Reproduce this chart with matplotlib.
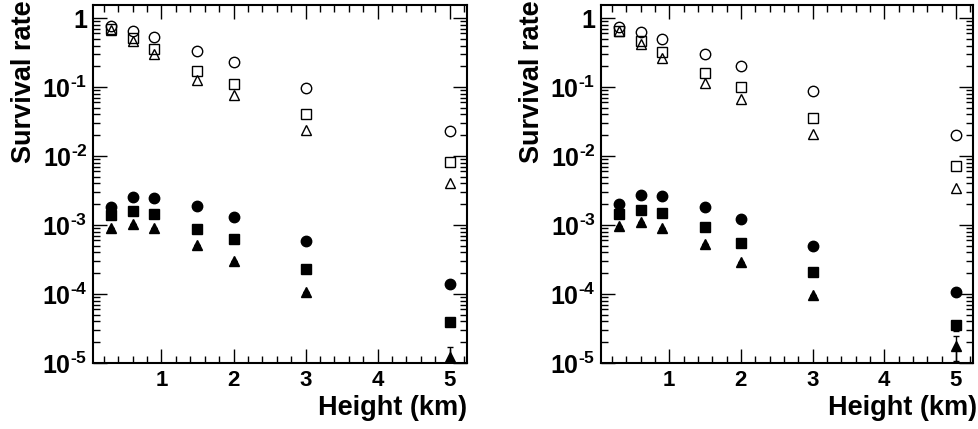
import math
import matplotlib
matplotlib.use("Agg")
import matplotlib.pyplot as plt
from matplotlib.ticker import LogLocator, MultipleLocator, FixedLocator, FuncFormatter, NullFormatter

plt.rcParams['font.family'] = ['Liberation Sans', 'DejaVu Sans']
plt.rcParams['font.weight'] = 'bold'
plt.rcParams['mathtext.fontset'] = 'custom'
plt.rcParams['mathtext.rm'] = 'Liberation Sans:bold'
plt.rcParams['mathtext.bf'] = 'Liberation Sans:bold'
plt.rcParams['mathtext.default'] = 'rm'

# heights (km) of the measurements
heights = [0.3, 0.6, 0.9, 1.5, 2, 3, 5]

# left panel
open_circle_L = [0.76, 0.66, 0.54, 0.33, 0.23, 0.098, 0.023]
open_square_L = [0.69, 0.52, 0.36, 0.17, 0.11, 0.041, 0.0083]
open_tri_L = [0.68, 0.46, 0.30, 0.126, 0.076, 0.024, 0.0040]
fill_circle_L = [1.8e-3, 2.57e-3, 2.5e-3, 1.9e-3, 1.32e-3, 5.9e-4, 1.38e-4]
fill_square_L = [1.4e-3, 1.6e-3, 1.44e-3, 8.7e-4, 6.2e-4, 2.3e-4, 3.9e-5]
fill_tri_L = [9.0e-4, 1.02e-3, 9.0e-4, 5.2e-4, 3.0e-4, 1.05e-4, 1.22e-5]
err_square_L = [0, 0, 0, 0, 0, 0, 0.4e-5]
err_tri_L = [0, 0, 0, 0, 0, 0, 0.5e-5]

# right panel
open_circle_R = [0.74, 0.62, 0.49, 0.30, 0.20, 0.087, 0.020]
open_square_R = [0.66, 0.47, 0.32, 0.158, 0.099, 0.036, 0.0071]
open_tri_R = [0.65, 0.42, 0.26, 0.116, 0.067, 0.021, 0.0034]
fill_circle_R = [2.0e-3, 2.7e-3, 2.6e-3, 1.8e-3, 1.21e-3, 5.0e-4, 1.08e-4]
fill_square_R = [1.43e-3, 1.65e-3, 1.47e-3, 9.5e-4, 5.5e-4, 2.05e-4, 3.5e-5]
fill_tri_R = [9.7e-4, 1.12e-3, 9.0e-4, 5.3e-4, 2.9e-4, 9.8e-5, 1.75e-5]
err_square_R = [0, 0, 0, 0, 0, 0, 0.6e-5]
err_tri_R = [0, 0, 0, 0, 0, 0, 0.7e-5]

x_ticks = [1, 2, 3, 4, 5]


def log_label(v, pos):
    if abs(v - 1) < 1e-9:
        return '1'
    k = int(round(math.log10(v)))
    return r'$10^{\text{-}%d}$' % abs(k)


def draw_panel(ax, oc, osq, otr, fc, fsq, ftr, esq, etr, xlabel_x):
    ms = 7.5
    ax.plot(heights, oc, 'o', ms=ms, mfc='none', mec='black', mew=1)
    ax.plot(heights, osq, 's', ms=ms - 0.5, mfc='none', mec='black', mew=1)
    ax.plot(heights, otr, '^', ms=ms, mfc='none', mec='black', mew=1)
    ax.plot(heights, fc, 'o', ms=ms, color='black')
    ax.errorbar(heights, fsq, yerr=esq, fmt='s', ms=ms - 0.5, color='black', elinewidth=1, capsize=2)
    ax.errorbar(heights, ftr, yerr=etr, fmt='^', ms=ms, color='black', elinewidth=1, capsize=2)

    ax.set_yscale('log')
    ax.set_ylim(1e-5, 1.55)
    ax.set_xlim(0.05, 5.24)

    ax.xaxis.set_major_locator(FixedLocator(x_ticks))
    ax.xaxis.set_minor_locator(MultipleLocator(0.2))
    ax.yaxis.set_major_locator(LogLocator(base=10, numticks=10))
    ax.yaxis.set_minor_locator(LogLocator(base=10, subs=range(2, 10), numticks=10))
    ax.yaxis.set_major_formatter(FuncFormatter(log_label))
    ax.yaxis.set_minor_formatter(NullFormatter())

    ax.tick_params(which='both', direction='in', top=True, right=True, width=1)
    ax.tick_params(which='major', length=10, pad=5)
    ax.tick_params(axis='x', which='major', labelsize=16)
    ax.tick_params(axis='y', which='major', labelsize=18, pad=4)
    ax.tick_params(which='minor', length=5)
    for s in ax.spines.values():
        s.set_linewidth(1.5)

    ax.set_ylabel('Survival rate', fontsize=19.5, fontweight='bold', loc='top')
    ax.yaxis.set_label_coords(-0.15, 1.014)
    ax.set_xlabel('Height (km)', fontsize=19.5, fontweight='bold', loc='right')
    ax.xaxis.set_label_coords(xlabel_x, -0.09)


fig = plt.figure(figsize=(9.79, 4.29), dpi=100)
ax1 = fig.add_axes([0.095, 0.154, 0.382, 0.8345])
ax2 = fig.add_axes([0.614, 0.154, 0.380, 0.8345])

draw_panel(ax1, open_circle_L, open_square_L, open_tri_L, fill_circle_L, fill_square_L, fill_tri_L,
           err_square_L, err_tri_L, 1.0)
draw_panel(ax2, open_circle_R, open_square_R, open_tri_R, fill_circle_R, fill_square_R, fill_tri_R,
           err_square_R, err_tri_R, 1.01)

fig.savefig('out.png', dpi=100)
